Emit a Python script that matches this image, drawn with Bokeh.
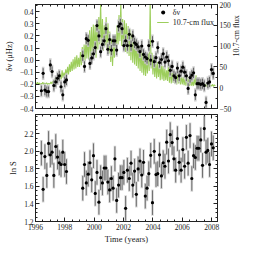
import numpy as np
from bokeh.plotting import figure
from bokeh.models import (Range1d, LinearAxis, FixedTicker, ColumnDataSource,
                          Legend, LegendItem)
from bokeh.layouts import column
from bokeh.embed import file_html
from bokeh.resources import INLINE

# ---------------- data ----------------
time = [1996.40, 1996.52, 1996.64, 1996.77, 1996.89, 1997.01, 1997.13, 1997.25,
        1997.38, 1997.50, 1997.62, 1997.74, 1997.86, 1997.99, 1998.11,
        1999.22, 1999.34, 1999.46, 1999.59, 1999.71, 1999.83, 1999.95, 2000.07,
        2000.19, 2000.32, 2000.44, 2000.56, 2000.68, 2000.80, 2000.93, 2001.05,
        2001.17, 2001.29, 2001.41, 2001.53, 2001.66, 2001.78, 2001.90, 2002.02,
        2002.14, 2002.26, 2002.39, 2002.51, 2002.63, 2002.75, 2002.87, 2002.99,
        2003.12, 2003.24, 2003.36, 2003.48, 2003.60, 2003.72, 2003.85, 2003.97,
        2004.09, 2004.21, 2004.33, 2004.45, 2004.58, 2004.70, 2004.82, 2004.94,
        2005.06, 2005.18, 2005.31, 2005.43, 2005.55, 2005.67, 2005.79, 2005.92,
        2006.04, 2006.16, 2006.28, 2006.40, 2006.53, 2006.65, 2006.77, 2006.89,
        2007.01, 2007.13, 2007.26, 2007.38, 2007.50, 2007.62, 2007.74, 2007.86,
        2007.99, 2008.11]

dnu = [-0.253, -0.109, -0.248, -0.260, -0.260, -0.040, -0.094, -0.210,
       -0.180, -0.150, -0.130, -0.220, -0.287, -0.180, -0.164,
       0.036, -0.052, 0.177, 0.164, -0.027, 0.018, 0.052, 0.104,
       0.286, 0.200, 0.070, 0.130, 0.160, 0.260, 0.090, 0.170,
       0.083, 0.160, 0.160, 0.083, 0.280, 0.300, 0.260, 0.120,
       0.160, 0.120, 0.213, 0.120, 0.200, 0.143, 0.130, 0.110,
       0.070, 0.117, 0.047, 0.026, 0.013, 0.120, 0.000, 0.156,
       -0.013, 0.020, 0.104, -0.020, 0.005, 0.052, -0.016, 0.026,
       -0.005, -0.084, -0.052, -0.130, -0.144, -0.066, -0.130, -0.091,
       -0.058, -0.100, -0.130, -0.234, -0.144, -0.125, -0.105, -0.287,
       -0.195, -0.195, -0.200, -0.195, -0.210, -0.350, -0.190, -0.180,
       -0.078, -0.110]

ln_s = [1.980, 1.567, 1.940, 1.725, 2.090, 1.960, 1.990, 1.725,
        2.055, 1.935, 1.870, 1.850, 1.990, 1.850, 1.770,
        1.580, 1.850, 1.640, 1.740, 1.870, 1.675, 1.950, 1.520,
        1.760, 1.420, 1.700, 1.640, 1.810, 1.810, 1.650, 1.560,
        1.690, 1.580, 1.915, 1.440, 1.615, 1.700, 1.700, 1.760,
        1.350, 1.785, 1.690, 1.865, 1.615, 1.775, 1.510, 1.800,
        1.890, 1.730, 1.875, 1.490, 1.580, 1.745, 1.955, 1.415,
        2.000, 1.735, 1.745, 1.960, 1.720, 1.870, 1.830, 2.105,
        1.890, 2.190, 2.100, 1.915, 1.785, 2.145, 1.875, 1.785,
        2.020, 1.830, 2.160, 1.865, 2.180, 1.690, 1.950, 1.930,
        2.035, 2.035, 2.130, 1.840, 2.260, 1.990, 2.010, 1.850,
        2.085, 2.040]

dnu_err = 0.042      # statistical error (black)
dnu_sys = 0.055      # grey bar
lns_err = 0.14
lns_sys = 0.15

# 10.7-cm flux (offset units of right axis), sampled every 1/16 yr from 1996.0
flux_start = 1996.0
flux_step = 1.0 / 16.0
flux = [11, 8, 13, 9, 12, 7, 10, 9, 13, 8, 11, 9, 12, 8, 10, 9,
        10, 14, 9, 16, 12, 22, 14, 26, 16, 30, 18, 34, 20, 42, 24, 36,
        26, 44, 30, 50, 32, 56, 38, 62, 40, 68, 44, 74, 46, 78, 50, 72,
        50, 86, 54, 98, 60, 104, 64, 118, 70, 126, 68, 138, 76, 146, 74, 152,
        84, 150, 72, 160, 92, 170, 104, 205, 98, 165, 88, 150, 102, 170, 92, 155,
        82, 135, 62, 118, 52, 110, 72, 128, 92, 150, 104, 175, 112, 205, 100, 165,
        92, 162, 86, 155, 82, 148, 76, 140, 66, 130, 60, 122, 56, 115, 52, 108,
        46, 100, 40, 94, 36, 88, 30, 78, 28, 72, 34, 82, 40, 205, 46, 84,
        32, 72, 26, 66, 22, 62, 26, 56, 18, 66, 20, 52, 16, 46, 18, 42,
        16, 62, 12, 46, 10, 40, 12, 42, 10, 36, 8, 38, 10, 30, 8, 28,
        8, 26, 6, 22, 5, 28, 6, 20, 4, 18, 5, 16, 4, 22, 6, 30,
        5, 11, 3, 9, 4, 12, 3, 8, 2, 9, 3, 7, 2, 8, 3, 6,
        4, 8, 3, 7, 4]

x_ticks = [1996, 1998, 2000, 2002, 2004, 2006, 2008]
x_minor = [1996 + 0.5 * i for i in range(26)]
dnu_ticks = [-0.4, -0.3, -0.2, -0.1, 0.0, 0.1, 0.2, 0.3, 0.4]
dnu_labels = ["−0.4", "−0.3", "−0.2", "−0.1", "0.0", "0.1", "0.2", "0.3", "0.4"]
dnu_minor = [-0.4 + 0.05 * i for i in range(18)]
flux_ticks = [-50, 0, 50, 100, 150, 200]
flux_labels = ["−50", "0", "50", "100", "150", "200"]
flux_minor = [-50 + 25 * i for i in range(11)]
lns_ticks = [1.2, 1.4, 1.6, 1.8, 2.0, 2.2]
lns_labels = ["1.2", "1.4", "1.6", "1.8", "2.0", "2.2"]
lns_minor = [1.2 + 0.05 * i for i in range(25)]

# ---------------- styling helpers ----------------
FONT = "Liberation Serif"
GREEN = "#8cc63f"
INK = "#222222"


def style_axis(ax, ticks=None, labels=None, show_labels=True):
    ax.major_tick_in = 4
    ax.major_tick_out = 0
    ax.minor_tick_in = 2
    ax.minor_tick_out = 0
    ax.axis_line_color = INK
    ax.major_tick_line_color = INK
    ax.minor_tick_line_color = INK
    ax.major_label_text_font = FONT
    ax.major_label_text_font_size = "7.5px"
    ax.major_label_text_color = INK
    ax.major_label_standoff = 2
    ax.axis_label_text_font = FONT
    ax.axis_label_text_font_size = "8.5px"
    ax.axis_label_text_font_style = "normal"
    ax.axis_label_text_color = INK
    ax.axis_label_standoff = 3
    if labels is not None:
        ax.major_label_overrides = dict(zip(ticks, labels))
    if not show_labels:
        ax.major_label_overrides = {tk: "" for tk in ticks}
        ax.major_label_standoff = 0


t = np.array(time)
dv = np.array(dnu)
ls = np.array(ln_s)
ft = flux_start + flux_step * np.arange(len(flux))

xr = Range1d(1996.0, 2008.4)

# ---------------- top panel ----------------
p1 = figure(width=248, height=114, x_range=xr, y_range=Range1d(-0.4, 0.46),
            output_backend="svg", toolbar_location=None,
            min_border_left=30, min_border_right=25, min_border_top=4,
            min_border_bottom=6)
p1.extra_y_ranges = {"flux": Range1d(-50, 200)}
p1.grid.visible = False
p1.outline_line_color = INK
p1.background_fill_color = "white"
p1.border_fill_color = "white"

r_flux = p1.line(ft, flux, y_range_name="flux", line_color=GREEN,
                 line_width=1.1, line_alpha=0.85)

src1 = ColumnDataSource(dict(t=t, v=dv, lo=dv - dnu_err, hi=dv + dnu_err,
                             slo=dv - dnu_sys, shi=dv + dnu_sys))
p1.segment("t", "slo", "t", "shi", source=src1, line_color="#c4c4c4",
           line_width=2.5, line_alpha=0.85)
p1.segment("t", "lo", "t", "hi", source=src1, line_color="#444444",
           line_width=0.8)
r_pts = p1.scatter("t", "v", source=src1, size=3.2, marker="circle",
                   fill_color="black", line_color=None)
r_bar = p1.scatter(x=[], y=[], marker="dash", angle=np.pi / 2, size=12,
                   line_color="#333333", line_width=1)

ax = p1.xaxis[0]
ax.ticker = FixedTicker(ticks=x_ticks, minor_ticks=x_minor)
style_axis(ax, x_ticks, show_labels=False)

ay = p1.yaxis[0]
ay.ticker = FixedTicker(ticks=dnu_ticks, minor_ticks=dnu_minor)
ay.axis_label = "δν (μHz)"
style_axis(ay, dnu_ticks, dnu_labels)

ay_r = LinearAxis(y_range_name="flux",
                  ticker=FixedTicker(ticks=flux_ticks, minor_ticks=flux_minor),
                  axis_label="10.7-cm flux")
style_axis(ay_r, flux_ticks, flux_labels)
ay_r.axis_label_standoff = 2
ay_r.axis_label_text_font_size = "8px"
if "axis_label_orientation" in LinearAxis.properties():
    ay_r.axis_label_orientation = np.pi / 2
p1.add_layout(ay_r, "right")

ax_t = LinearAxis(ticker=FixedTicker(ticks=x_ticks, minor_ticks=x_minor))
style_axis(ax_t, x_ticks, show_labels=False)
p1.add_layout(ax_t, "above")

legend = Legend(items=[LegendItem(label="δν", renderers=[r_bar, r_pts]),
                       LegendItem(label="10.7-cm flux", renderers=[r_flux])],
                location="top_right", margin=3, padding=0, spacing=0,
                glyph_width=12, glyph_height=10, label_standoff=4,
                label_height=10, background_fill_alpha=0,
                border_line_color=None,
                label_text_font=FONT, label_text_font_size="8px",
                label_text_color=INK)
p1.add_layout(legend)

# ---------------- bottom panel ----------------
p2 = figure(width=248, height=132, x_range=xr, y_range=Range1d(1.2, 2.42),
            output_backend="svg", toolbar_location=None,
            min_border_left=30, min_border_right=25, min_border_top=0,
            min_border_bottom=21)
p2.grid.visible = False
p2.outline_line_color = INK
p2.background_fill_color = "white"
p2.border_fill_color = "white"

src2 = ColumnDataSource(dict(t=t, v=ls, lo=ls - lns_err, hi=ls + lns_err,
                             slo=ls - lns_sys, shi=ls + lns_sys))
p2.segment("t", "slo", "t", "shi", source=src2, line_color="#cccccc",
           line_width=2.5, line_alpha=0.85)
p2.segment("t", "lo", "t", "hi", source=src2, line_color="#555555",
           line_width=0.8)
p2.scatter("t", "v", source=src2, size=3.2, marker="circle",
           fill_color="black", line_color=None)

bx = p2.xaxis[0]
bx.ticker = FixedTicker(ticks=x_ticks, minor_ticks=x_minor)
bx.axis_label = "Time (years)"
style_axis(bx)
bx.axis_label_standoff = 1

by = p2.yaxis[0]
by.ticker = FixedTicker(ticks=lns_ticks, minor_ticks=lns_minor)
by.axis_label = "ln S"
style_axis(by, lns_ticks, lns_labels)

by_r = LinearAxis(ticker=FixedTicker(ticks=lns_ticks, minor_ticks=lns_minor))
style_axis(by_r, lns_ticks, show_labels=False)
p2.add_layout(by_r, "right")

bx_t = LinearAxis(ticker=FixedTicker(ticks=x_ticks, minor_ticks=x_minor))
style_axis(bx_t, x_ticks, show_labels=False)
p2.add_layout(bx_t, "above")

layout = column(p1, p2, spacing=0)
open("out.html", "w").write(file_html(layout, INLINE))
